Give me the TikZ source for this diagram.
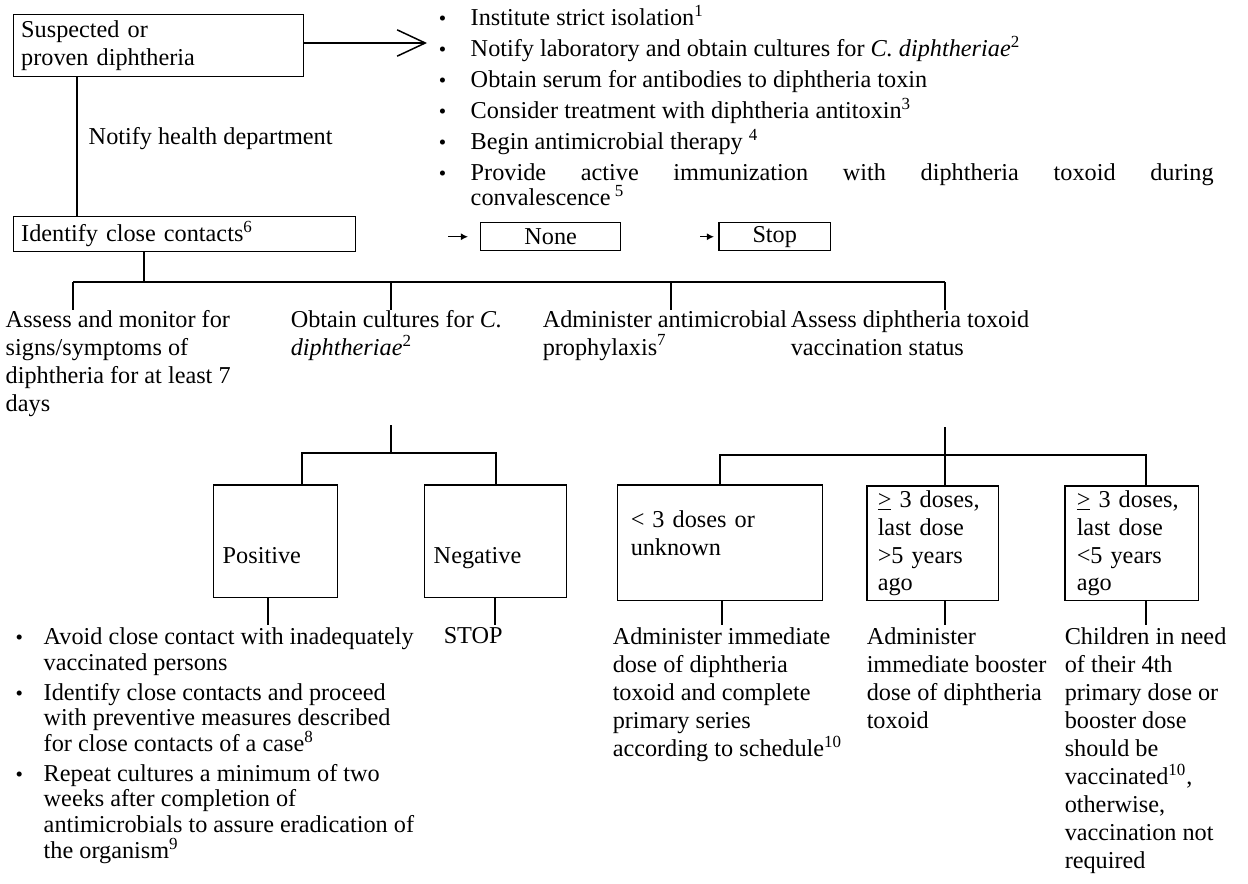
\documentclass[tikz,border=0pt]{standalone}
\usepackage{fontspec}
\setmainfont{Liberation Serif}
\usetikzlibrary{arrows.meta}

\newcommand{\bul}[1]{\makebox[#1][l]{\fontsize{12}{12}\selectfont\textbullet}}

\begin{document}
\begin{tikzpicture}[x=0.02cm,y=-0.02cm,line width=0.85pt,
    every node/.style={font=\fontsize{13.8}{15.9}\selectfont},
    box/.style={draw,anchor=north west,inner sep=0pt},
    txt/.style={anchor=north west,inner sep=0pt,align=left}]
    \useasboundingbox (0,0) rectangle (1248,883);

    % case and first steps
    \node[box,minimum width=5.8cm,minimum height=1.24cm,text width=5.5cm,align=left] (susp) at (13,14) {Suspected or\\proven diphtheria};
    \coordinate (lst) at (427,43);
    \draw[-{Straight Barb[length=16pt,width=15pt]}] (susp.east |- lst) -- (lst);
    \node[txt,font=\fontsize{13.8}{14.6}\selectfont] (steps) at (438,4.5) {\bul{0.64cm}Institute strict isolation\textsuperscript{1}\\[3pt]
        \bul{0.64cm}Notify laboratory and obtain cultures for \textit{C. diphtheriae}\textsuperscript{2}\\[3pt]
        \bul{0.64cm}Obtain serum for antibodies to diphtheria toxin\\[3pt]
        \bul{0.64cm}Consider treatment with diphtheria antitoxin\textsuperscript{3}\\[3pt]
        \bul{0.64cm}Begin antimicrobial therapy \textsuperscript{4}\\[3pt]
        \bul{0.64cm}\makebox[14.86cm][s]{Provide active immunization with diphtheria toxoid during}\\
        \hspace*{0.64cm}convalescence\,\textsuperscript{5}};

    \node[box,minimum width=6.84cm,minimum height=0.7cm,text width=6.54cm,align=left] (ident) at (13,216) {Identify close contacts\textsuperscript{6}};
    \coordinate (c1) at (77,0);
    \draw (c1 |- susp.south) -- (c1 |- ident.north);
    \node[anchor=west,inner sep=0pt] (notify) at (88,139) {Notify health department};

    \node[box,minimum width=2.8cm,minimum height=0.56cm] (none) at (480,222) {None};
    \node[box,minimum width=2.24cm,minimum height=0.56cm] (stopb) at (718,222) {Stop};
    \draw[-{Latex[length=4pt,width=4pt]}] ([xshift=-0.64cm]none.west) -- ([xshift=-0.24cm]none.west);
    \draw[-{Latex[length=4pt,width=4pt]}] ([xshift=-0.36cm]stopb.west) -- ([xshift=-0.08cm]stopb.west);

    % close contacts
    \coordinate (h0) at (144,282);
    \coordinate (h1) at (73,282);
    \coordinate (h2) at (391,282);
    \coordinate (h3) at (671,282);
    \coordinate (h4) at (945,282);
    \coordinate (d1) at (73,310);
    \coordinate (d2) at (391,310);
    \coordinate (d3) at (671,310);
    \coordinate (d4) at (945,310);
    \draw (h0 |- ident.south) -- (h0);
    \draw (h1) -- (h4);
    \draw (h1) -- (d1) (h2) -- (d2) (h3) -- (d3) (h4) -- (d4);

    \node[txt] (monitor) at (5,309.6) {Assess and monitor for\\signs/symptoms of\\diphtheria for at least 7\\days};
    \node[txt] (cult) at (290,309.6) {Obtain cultures for \textit{C.}\\\textit{diphtheriae}\textsuperscript{2}};
    \node[txt] (proph) at (542,309.6) {Administer antimicrobial\\prophylaxis\textsuperscript{7}};
    \node[txt] (vacc) at (790,309.6) {Assess diphtheria toxoid\\vaccination status};

    % culture results
    \coordinate (v2) at (391,425);
    \coordinate (j2) at (391,453);
    \node[box,minimum width=2.48cm,minimum height=2.26cm,text width=2.12cm,align=left,text height=29.6pt,text depth=4pt] (pos) at (213,484) {Positive};
    \node[box,minimum width=2.84cm,minimum height=2.26cm,text width=2.48cm,align=left,text height=29.6pt,text depth=4pt] (neg) at (424,484) {Negative};
    \coordinate (p1) at (302,0);
    \coordinate (p2) at (496,0);
    \draw (v2) -- (j2);
    \draw (p1 |- pos.north) |- (j2) -| (p2 |- neg.north);

    % vaccination status
    \coordinate (v4) at (945,427);
    \coordinate (j4) at (945,455);
    \node[box,minimum width=4.1cm,minimum height=2.32cm,text width=3.58cm,align=left,text depth=27pt] (few) at (617,484) {< 3 doses or\\unknown};
    \node[box,minimum width=2.64cm,minimum height=2.3cm,text width=2.2cm,align=left] (old) at (866,485) {\underline{>} 3 doses,\\last dose\\>5 years\\ago};
    \node[box,minimum width=2.68cm,minimum height=2.3cm,text width=2.2cm,align=left] (recent) at (1064,485) {\underline{>} 3 doses,\\last dose\\<5 years\\ago};
    \coordinate (q1) at (720,0);
    \coordinate (q3) at (1146,0);
    \draw (v4) -- (v4 |- old.north);
    \draw (q1 |- few.north) |- (j4) -| (q3 |- recent.north);

    % actions
    \coordinate (e1) at (268,625);
    \coordinate (e2) at (495,625);
    \coordinate (e3) at (722,625);
    \coordinate (e4) at (945,625);
    \coordinate (e5) at (1146,625);
    \draw (e1 |- pos.south) -- (e1);
    \draw (e2 |- neg.south) -- (e2);
    \draw (e3 |- few.south) -- (e3);
    \draw (e4 |- old.south) -- (e4);
    \draw (e5 |- recent.south) -- (e5);

    \node[txt,font=\fontsize{13.8}{14.6}\selectfont] (posact) at (15,627) {\bul{0.56cm}Avoid close contact with inadequately\\
        \hspace*{0.56cm}vaccinated persons\\[2.4pt]
        \bul{0.56cm}Identify close contacts and proceed\\
        \hspace*{0.56cm}with preventive measures described\\
        \hspace*{0.56cm}for close contacts of a case\textsuperscript{8}\\[2.4pt]
        \bul{0.56cm}Repeat cultures a minimum of two\\
        \hspace*{0.56cm}weeks after completion of\\
        \hspace*{0.56cm}antimicrobials to assure eradication of\\
        \hspace*{0.56cm}the organism\textsuperscript{9}};
    \node[txt] (negact) at (443,627) {STOP};
    \node[txt] (fewact) at (612,627) {Administer immediate\\dose of diphtheria\\toxoid and complete\\primary series\\according to schedule\textsuperscript{10}};
    \node[txt] (oldact) at (866,627) {Administer\\immediate booster\\dose of diphtheria\\toxoid};
    \node[txt] (recentact) at (1064,627) {Children in need\\of their 4th\\primary dose or\\booster dose\\should be\\vaccinated\textsuperscript{10},\\otherwise,\\vaccination not\\required};
\end{tikzpicture}
\end{document}
